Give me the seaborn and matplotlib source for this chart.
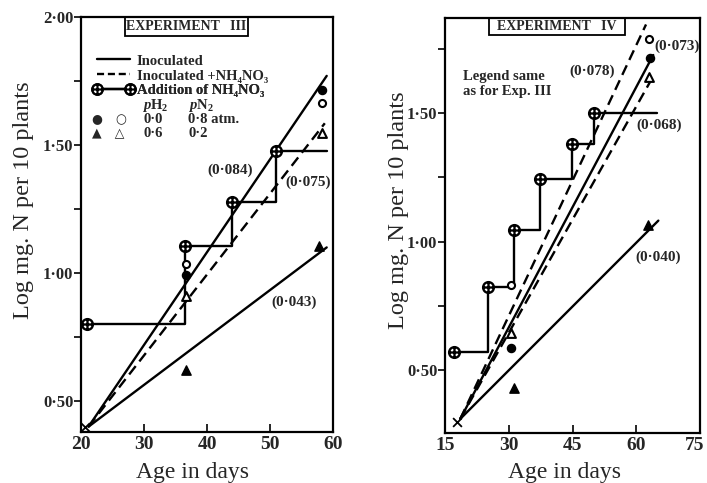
import matplotlib
matplotlib.use("Agg")
import matplotlib.pyplot as plt
import matplotlib.transforms as mtransforms
import seaborn as sns
import numpy as np
import pandas as pd
from matplotlib.lines import Line2D
from matplotlib.patches import Rectangle
from matplotlib.path import Path

# ---------------- data : Experiment III ----------------
e3_origin_x = [20.7]
e3_origin_y = [0.40]
e3_inoc_x = [21.2, 59.0]
e3_inoc_y = [0.40, 1.77]
e3_nh4_x = [21.2, 58.7]
e3_nh4_y = [0.40, 1.585]
e3_low_x = [21.2, 59.0]
e3_low_y = [0.40, 1.10]
e3_add_days = [21.0, 36.5, 44.0, 51.0, 59.0]
e3_add_vals = [0.80, 1.107, 1.276, 1.477, 1.477]
e3_fc_x = [36.6, 58.2]; e3_fc_y = [0.992, 1.715]   # filled circle
e3_oc_x = [36.6, 58.2]; e3_oc_y = [1.035, 1.663]   # open circle
e3_ft_x = [36.7, 57.7]; e3_ft_y = [0.621, 1.105]   # filled triangle
e3_ot_x = [36.7, 58.2]; e3_ot_y = [0.910, 1.546]   # open triangle
e3_rate_labels = ["(0·084)", "(0·075)", "(0·043)"]
e3_rate_x = [43.7, 56.0, 53.8]
e3_rate_y = [1.40, 1.355, 0.887]

# ---------------- data : Experiment IV ----------------
e4_origin_x = [17.9]
e4_origin_y = [0.298]
e4_inoc_x = [18.6, 64.0]
e4_inoc_y = [0.31, 1.727]
e4_nh4a_x = [18.6, 62.3]
e4_nh4a_y = [0.31, 1.846]
e4_nh4b_x = [18.6, 64.4]
e4_nh4b_y = [0.31, 1.656]
e4_low_x = [18.6, 65.2]
e4_low_y = [0.31, 1.082]
e4_add_days = [17.0, 25.0, 31.2, 37.4, 44.8, 50.0, 64.8]
e4_add_vals = [0.571, 0.825, 1.045, 1.244, 1.380, 1.502, 1.502]
e4_oc_x = [30.5, 63.1]; e4_oc_y = [0.831, 1.788]
e4_fc_x = [30.5, 63.2]; e4_fc_y = [0.585, 1.714]
e4_ot_x = [30.5, 63.1]; e4_ot_y = [0.645, 1.643]
e4_ft_x = [31.2, 62.8]; e4_ft_y = [0.429, 1.065]
e4_rate_labels = ["(0·073)", "(0·078)", "(0·068)", "(0·040)"]
e4_rate_x = [69.6, 49.5, 65.3, 65.2]
e4_rate_y = [1.76, 1.662, 1.455, 0.939]

e3_xticks = [20, 30, 40, 50, 60]
e4_xticks = [15, 30, 45, 60, 75]
e3_yticks = [0.50, 1.00, 1.50, 2.00]
e4_yticks = [0.50, 1.00, 1.50]
y_minor = [0.75, 1.25, 1.75]

legend_labels = ["Inoculated", "Inoculated +NH₄NO₃", "Addition of NH₄NO₃"]

# ---------------- style ----------------
sns.set_theme(style="ticks")
SERIF = ["Liberation Serif", "DejaVu Serif"]
plt.rcParams["font.family"] = SERIF
plt.rcParams["font.weight"] = "bold"
plt.rcParams["mathtext.fontset"] = "custom"
plt.rcParams["mathtext.rm"] = "Liberation Serif:bold"
plt.rcParams["mathtext.it"] = "Liberation Serif:italic:bold"
plt.rcParams["mathtext.bf"] = "Liberation Serif:bold"
plt.rcParams["mathtext.default"] = "regular"

K = "black"
LW = 1.7
DASH = (0, (4.5, 2.5))

# circle-with-plus marker
OPLUS = Path.make_compound_path(
    Path.unit_circle(),
    Path([(-1, 0), (1, 0)], [Path.MOVETO, Path.LINETO]),
    Path([(0, -1), (0, 1)], [Path.MOVETO, Path.LINETO]),
)

fig = plt.figure(figsize=(7.07, 4.83), dpi=100)
ax1 = fig.add_axes([81 / 707, 1 - 432 / 483, 252 / 707, 415 / 483])
ax2 = fig.add_axes([445 / 707, 1 - 432.7 / 483, 255 / 707, 414.4 / 483])


def line(ax, x, y, ls="-"):
    sns.lineplot(x=x, y=y, ax=ax, color=K, lw=LW, linestyle=ls,
                 sort=False, estimator=None)


def pts(ax, x, y, marker, filled, s=34):
    if filled:
        sns.scatterplot(x=x, y=y, ax=ax, marker=marker, color=K,
                        edgecolor=K, s=s, linewidth=1, zorder=5)
    else:
        sns.scatterplot(x=x, y=y, ax=ax, marker=marker, color="white",
                        edgecolor=K, s=s, linewidth=1.5, zorder=5)


def oplus(ax, x, y):
    sns.scatterplot(x=x, y=y, ax=ax, marker=OPLUS, color="white",
                    edgecolor=K, s=60, linewidth=1.7, zorder=6)


def fmt(v):
    return f"{v:.2f}".replace(".", "·")


def style_axes(ax, xlim, ylim, xt, yt, xlab_pos, ylab_pos):
    ax.set_xlim(*xlim)
    ax.set_ylim(*ylim)
    ax.set_xticks(xt)
    ax.set_xticklabels([str(t) for t in xt], fontsize=14, fontweight="bold")
    ax.set_yticks(yt)
    ax.set_yticklabels([fmt(v) for v in yt], fontsize=12, fontweight="bold")
    ax.set_yticks(y_minor, minor=True)
    ax.tick_params(axis="x", direction="in", length=6, width=1.4, pad=3)
    ax.tick_params(axis="y", which="both", direction="out", length=5,
                   width=1.4, pad=0.5)
    for sp in ax.spines.values():
        sp.set_visible(True)
        sp.set_linewidth(1.6)
        sp.set_color(K)
    ax.set_xlabel("Age in days", fontsize=17, fontweight="normal")
    ax.set_ylabel("Log mg. N per 10 plants", fontsize=17.5,
                  fontweight="normal")
    ax.xaxis.set_label_coords(*xlab_pos)
    ax.yaxis.set_label_coords(*ylab_pos)


def title_box(ax, x0, x1, y0, text):
    ax.add_patch(Rectangle((x0, y0), x1 - x0, 1 - y0, transform=ax.transAxes,
                           fill=False, lw=1.3, ec=K, clip_on=False, zorder=8))
    ax.text((x0 + x1) / 2, (y0 + 1) / 2, text, transform=ax.transAxes,
            ha="center", va="center", fontsize=10, fontweight="bold",
            family=["Liberation Serif", "DejaVu Sans"])


# ---------------- Experiment III ----------------
line(ax1, e3_inoc_x, e3_inoc_y, "-")
line(ax1, e3_nh4_x, e3_nh4_y, DASH)
line(ax1, e3_low_x, e3_low_y, "-")
sns.lineplot(x=e3_add_days, y=e3_add_vals, ax=ax1, color=K, lw=LW,
             drawstyle="steps-post", sort=False, estimator=None)
oplus(ax1, e3_add_days[:-1], e3_add_vals[:-1])
pts(ax1, e3_fc_x, e3_fc_y, "o", True)
pts(ax1, e3_oc_x, e3_oc_y, "o", False, s=26)
pts(ax1, e3_ft_x, e3_ft_y, "^", True, s=45)
pts(ax1, e3_ot_x, e3_ot_y, "^", False, s=40)
sns.scatterplot(x=e3_origin_x, y=e3_origin_y, ax=ax1, marker="x", color=K,
                s=40, linewidth=1.3, zorder=6)
for lab, x, y in zip(e3_rate_labels, e3_rate_x, e3_rate_y):
    ax1.text(x, y, lab, ha="center", va="center", fontsize=11,
             fontweight="bold")
style_axes(ax1, (20, 60), (0.379, 2.00), e3_xticks, e3_yticks,
           (0.444, -0.072), (-0.187, 0.559))
title_box(ax1, 0.175, 0.663, 0.955, "EXPERIMENT   III")

# legend of experiment III: one legend per row for exact spacing
h_inoc = Line2D([], [], color=K, lw=LW)
h_nh4 = Line2D([], [], color=K, lw=LW, linestyle=(0, (3, 1.6)))
h_add = Line2D([], [], color=K, lw=LW, marker=OPLUS, mfc="white", mec=K,
               ms=7.5, mew=1.6)
row_y = [0.894, 0.858, 0.822]
for h, lab, yy in zip([h_inoc, h_nh4, h_add], legend_labels, row_y):
    lg = ax1.legend([h], [lab], loc="center left",
                    bbox_to_anchor=(0.045, yy), frameon=False,
                    handlelength=2.9, handletextpad=0.15, borderpad=0,
                    borderaxespad=0, numpoints=2,
                    prop={"family": ["Liberation Serif", "DejaVu Serif"],
                          "weight": "bold", "size": 10.5})
    ax1.add_artist(lg)
ax1.text(0.242, 0.786, "$\\mathit{p}$H$_2$", transform=ax1.transAxes,
         fontsize=10.5, va="center", ha="left")
ax1.text(0.425, 0.786, "$\\mathit{p}$N$_2$", transform=ax1.transAxes,
         fontsize=10.5, va="center", ha="left")
ax1.text(0.045, 0.752, "●   ○", transform=ax1.transAxes, fontsize=9,
         va="center", ha="left", family=["DejaVu Sans"])
ax1.text(0.247, 0.752, "0·0", transform=ax1.transAxes, fontsize=10.5,
         va="center", ha="left")
ax1.text(0.425, 0.752, "0·8 atm.", transform=ax1.transAxes, fontsize=10.5,
         va="center", ha="left")
ax1.text(0.045, 0.719, "▲   △", transform=ax1.transAxes, fontsize=9,
         va="center", ha="left", family=["DejaVu Sans"])
ax1.text(0.247, 0.719, "0·6", transform=ax1.transAxes, fontsize=10.5,
         va="center", ha="left")
ax1.text(0.425, 0.719, "0·2", transform=ax1.transAxes, fontsize=10.5,
         va="center", ha="left")

# ---------------- Experiment IV ----------------
line(ax2, e4_inoc_x, e4_inoc_y, "-")
line(ax2, e4_nh4a_x, e4_nh4a_y, DASH)
line(ax2, e4_nh4b_x, e4_nh4b_y, DASH)
line(ax2, e4_low_x, e4_low_y, "-")
sns.lineplot(x=e4_add_days, y=e4_add_vals, ax=ax2, color=K, lw=LW,
             drawstyle="steps-post", sort=False, estimator=None)
oplus(ax2, e4_add_days[:-1], e4_add_vals[:-1])
pts(ax2, e4_fc_x, e4_fc_y, "o", True)
pts(ax2, e4_oc_x, e4_oc_y, "o", False, s=26)
pts(ax2, e4_ft_x, e4_ft_y, "^", True, s=45)
pts(ax2, e4_ot_x, e4_ot_y, "^", False, s=40)
sns.scatterplot(x=e4_origin_x, y=e4_origin_y, ax=ax2, marker="x", color=K,
                s=40, linewidth=1.3, zorder=6)
for lab, x, y in zip(e4_rate_labels, e4_rate_x, e4_rate_y):
    ax2.text(x, y, lab, ha="center", va="center", fontsize=11,
             fontweight="bold", clip_on=False)
style_axes(ax2, (15, 75), (0.256, 1.87), e4_xticks, e4_yticks,
           (0.467, -0.071), (-0.14, 0.536))
# last tick label sits at the figure edge: nudge it slightly inward
last = ax2.get_xticklabels()[-1]
last.set_transform(last.get_transform() +
                   mtransforms.ScaledTranslation(-5 / 100, 0,
                                                 fig.dpi_scale_trans))
title_box(ax2, 0.173, 0.706, 0.96, "EXPERIMENT   IV")
ax2.text(0.07, 0.876, "Legend same\nas for Exp. III", transform=ax2.transAxes,
         fontsize=10.5, fontweight="bold", va="top", ha="left",
         linespacing=1.2)

fig.savefig("out.png", dpi=100)
